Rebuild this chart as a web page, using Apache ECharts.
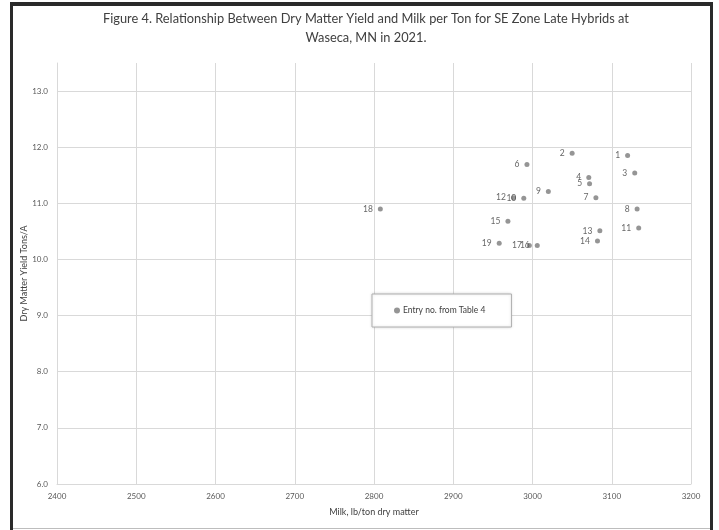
<!DOCTYPE html>
<html>
<head>
<meta charset="utf-8">
<script src="https://cdn.jsdelivr.net/npm/echarts@6/dist/echarts.min.js"></script>
<style>
  html, body { margin: 0; padding: 0; background: #fff; }
  #chart { width: 719px; height: 530px; }
</style>
</head>
<body>
<div id="chart"></div>
<script>
// Entry numbers from Table 4 and their measured values
const entries = ['1','2','3','4','5','6','7','8','9','10','11','12','13','14','15','16','17','18','19'];
const milkPerTon = [3120, 3050, 3129, 3071, 3072, 2993, 3080, 3132, 3020, 2989, 3134, 2976, 3085, 3082, 2969, 3006, 2996, 2808, 2958];
const dmYield = [11.85, 11.89, 11.54, 11.46, 11.35, 11.69, 11.10, 10.90, 11.21, 11.09, 10.56, 11.10, 10.51, 10.33, 10.68, 10.25, 10.25, 10.90, 10.29];

const xTicks = { min: 2400, max: 3200, step: 100 };
const yTicks = { min: 6, max: 13.5, step: 1 };

const points = entries.map((e, i) => ({ name: e, value: [milkPerTon[i], dmYield[i]] }));

const FONT = 'Lato, "Open Sans", sans-serif';
const chart = echarts.init(document.getElementById('chart'), null, { renderer: 'canvas' });

chart.setOption({
  backgroundColor: '#ffffff',
  animation: false,
  title: {
    text: 'Figure 4. Relationship Between Dry Matter Yield and Milk per Ton for SE Zone Late Hybrids at\nWaseca, MN in 2021.',
    left: 361,
    top: 4,
    textAlign: 'center',
    textStyle: { fontFamily: FONT, fontSize: 12.8, fontWeight: 'normal', color: '#404040', lineHeight: 19, align: 'center' }
  },
  legend: {
    data: ['Entry no. from Table 4'],
    left: 372,
    top: 294,
    orient: 'horizontal',
    padding: [12, 26, 12, 22],
    borderColor: '#b0b0b0',
    borderWidth: 1,
    backgroundColor: '#ffffff',
    shadowColor: 'rgba(0,0,0,0.15)',
    shadowBlur: 3,
    itemWidth: 6,
    itemHeight: 6,
    itemGap: 0,
    icon: 'circle',
    textStyle: { fontFamily: FONT, fontSize: 8.5, color: '#404040', padding: [0, 0, 0, -2] }
  },
  grid: { left: 57, right: 28, top: 63, bottom: 46 },
  xAxis: {
    type: 'value',
    min: xTicks.min,
    max: xTicks.max,
    interval: xTicks.step,
    name: 'Milk, lb/ton dry matter',
    nameLocation: 'middle',
    nameGap: 24,
    nameMoveOverlap: false,
    nameTextStyle: { fontFamily: FONT, fontSize: 9, color: '#404040' },
    axisLine: { show: true, lineStyle: { color: '#d9d9d9', width: 1 } },
    axisTick: { show: false },
    axisLabel: { fontFamily: FONT, fontSize: 8, color: '#595959', margin: 8, formatter: v => String(v) },
    splitLine: { show: true, lineStyle: { color: '#d9d9d9', width: 1 } }
  },
  yAxis: {
    type: 'value',
    min: yTicks.min,
    max: yTicks.max,
    interval: yTicks.step,
    name: 'Dry Matter Yield Tons/A',
    nameLocation: 'middle',
    nameGap: 28,
    nameMoveOverlap: false,
    nameTextStyle: { fontFamily: FONT, fontSize: 9, color: '#404040' },
    axisLine: { show: true, lineStyle: { color: '#d9d9d9', width: 1 } },
    axisTick: { show: false },
    axisLabel: {
      fontFamily: FONT, fontSize: 8, color: '#595959', margin: 9,
      showMaxLabel: false,
      formatter: v => v.toFixed(1)
    },
    splitLine: { show: true, showMaxLine: false, lineStyle: { color: '#d9d9d9', width: 1 } }
  },
  series: [{
    name: 'Entry no. from Table 4',
    type: 'scatter',
    data: points,
    symbol: 'circle',
    symbolSize: 5,
    itemStyle: { color: '#7a7a7a' },
    label: {
      show: true,
      position: 'left',
      distance: 5,
      formatter: p => p.name,
      fontFamily: FONT,
      fontSize: 8.5,
      color: '#404040'
    },
    labelLayout: { hideOverlap: false }
  }],
  graphic: [
    // page frame
    { type: 'rect', shape: { x: 10, y: 2, width: 703, height: 4 }, style: { fill: '#2a2a2a' }, silent: true },
    { type: 'rect', shape: { x: 10, y: 2, width: 3, height: 528 }, style: { fill: '#2a2a2a' }, silent: true },
    { type: 'rect', shape: { x: 710, y: 2, width: 3, height: 528 }, style: { fill: '#2a2a2a' }, silent: true },
    { type: 'rect', shape: { x: 13, y: 528, width: 697, height: 1 }, style: { fill: '#bdbdbd' }, silent: true }
  ]
});
</script>
</body>
</html>
